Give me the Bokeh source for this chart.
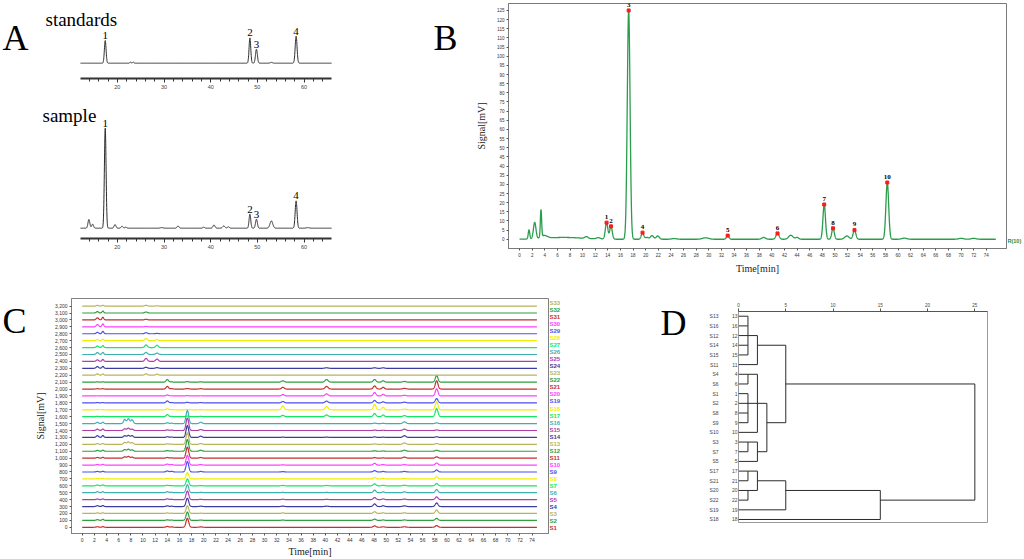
import numpy as np
from bokeh.plotting import figure
from bokeh.models import (Range1d, FixedTicker, Label, LabelSet, ColumnDataSource,
                          NumeralTickFormatter, LinearAxis)
from bokeh.layouts import row, column
from bokeh.embed import file_html
from bokeh.resources import INLINE
from bokeh.core.properties import value

SERIF = "Liberation Serif"
SANS = "Liberation Sans"

# ---------------- Panel A data (standards / sample) ----------------
A_STD_RT = [17.4, 22.8, 23.4, 48.4, 49.8, 53.0, 58.3]
A_STD_H = [22.7, 1.0, 1.0, 25.3, 14.0, 0.8, 27.0]
A_STD_W = [0.18, 0.15, 0.15, 0.18, 0.2, 0.25, 0.2]
A_SAMPLE_RT = [13.9, 14.7, 17.4, 19.5, 21.0, 21.8, 29.5, 33.0, 38.5, 40.7, 42.8, 43.8,
               48.4, 49.8, 53.0, 58.3, 60.8]
A_SAMPLE_H = [8.7, 4.0, 100.0, 3.6, 2.0, 1.0, 0.6, 2.2, 1.0, 3.2, 2.2, 1.4,
              14.0, 9.0, 7.3, 27.3, 0.6]
A_SAMPLE_W = [0.2, 0.2, 0.18, 0.2, 0.2, 0.2, 0.3, 0.2, 0.2, 0.22, 0.25, 0.2,
              0.18, 0.2, 0.3, 0.2, 0.3]
A_LABEL_RT = [17.4, 48.4, 49.8, 58.3]
A_LABELS = ["1", "2", "3", "4"]
A_X_TICKS = [20, 30, 40, 50, 60]
A_T_START, A_T_END = 12.1, 65.9

# ---------------- Panel B data (reference chromatogram R(10)) ----------------
B_RT = [1.5, 2.4, 3.4, 3.9, 7.0, 10.6, 12.5, 13.8, 14.5, 17.3, 19.5, 20.2, 21.0, 21.9,
        24.5, 29.5, 33.0, 38.7, 40.9, 43.0, 44.0, 48.3, 49.7, 51.9, 53.1, 58.3, 61.0,
        70.0, 72.0]
B_H = [4.9, 8.9, 14.8, 1.5, 1.0, 1.0, 0.7, 9.0, 7.0, 125.0, 3.6, 1.0, 2.0, 1.8,
       0.4, 0.8, 2.0, 1.0, 3.2, 2.2, 1.0, 19.0, 6.0, 1.8, 5.0, 31.0, 0.6,
       0.5, 0.5]
B_W = [0.12, 0.2, 0.1, 0.5, 3.0, 0.25, 0.3, 0.2, 0.2, 0.22, 0.2, 0.25, 0.25, 0.25,
       0.4, 0.5, 0.2, 0.3, 0.25, 0.35, 0.25, 0.2, 0.2, 0.35, 0.22, 0.22, 0.4,
       0.4, 0.4]
B_LABEL_RT = [13.8, 14.5, 17.3, 19.5, 33.0, 40.9, 48.3, 49.7, 53.1, 58.3]
B_LABELS = ["1", "2", "3", "4", "5", "6", "7", "8", "9", "10"]
B_X_TICKS = list(range(0, 75, 2))
B_Y_TICKS = list(range(0, 126, 5))
B_T_END = 75.5

# ---------------- Panel C data (33 samples, stacked by 100 mV) ----------------
C_SAMPLES = [f"S{i}" for i in range(1, 34)]
C_PEAK_RT = [2.5, 3.4, 7.0, 7.6, 8.2, 10.5, 12.3, 14.0, 14.7, 17.3, 19.5, 33.0, 40.2,
             48.1, 49.5, 53.0, 58.3]
C_PEAK_W = [0.2, 0.15, 0.2, 0.2, 0.2, 0.22, 0.22, 0.2, 0.2, 0.22, 0.22, 0.22, 0.25,
            0.22, 0.2, 0.25, 0.22]
C_HEIGHTS = [
    [8, 10, 0, 0, 0, 0, 0, 12, 6, 130, 6, 0, 0, 20, 8, 8, 25],
    [10, 15, 0, 0, 0, 0, 0, 8, 5, 120, 5, 5, 0, 18, 6, 6, 30],
    [8, 10, 0, 0, 0, 0, 0, 8, 4, 110, 4, 8, 0, 25, 10, 10, 50],
    [12, 15, 0, 0, 0, 0, 0, 10, 5, 120, 5, 6, 5, 38, 12, 10, 52],
    [8, 10, 0, 0, 0, 0, 0, 12, 5, 125, 5, 6, 5, 30, 10, 8, 40],
    [15, 15, 0, 0, 0, 0, 0, 15, 6, 115, 6, 5, 5, 38, 12, 12, 45],
    [12, 15, 0, 0, 0, 0, 0, 8, 4, 100, 4, 5, 5, 28, 8, 8, 33],
    [6, 8, 0, 0, 0, 0, 0, 6, 3, 90, 3, 4, 0, 20, 6, 6, 30],
    [8, 10, 0, 0, 0, 0, 0, 15, 10, 150, 8, 5, 0, 20, 8, 8, 30],
    [8, 10, 0, 0, 0, 0, 0, 15, 8, 140, 8, 4, 0, 25, 8, 6, 30],
    [10, 12, 20, 25, 15, 0, 0, 10, 5, 160, 10, 0, 0, 8, 4, 15, 20],
    [12, 15, 25, 30, 20, 0, 0, 10, 5, 170, 15, 0, 0, 6, 4, 15, 15],
    [10, 12, 30, 35, 25, 0, 0, 8, 4, 165, 12, 0, 0, 6, 4, 20, 12],
    [25, 28, 25, 30, 25, 0, 0, 10, 6, 170, 18, 5, 5, 8, 5, 25, 10],
    [20, 22, 25, 35, 20, 0, 0, 10, 6, 180, 15, 0, 0, 6, 4, 20, 8],
    [18, 20, 60, 70, 55, 0, 0, 12, 6, 190, 20, 0, 0, 6, 4, 25, 10],
    [5, 5, 0, 0, 0, 0, 0, 30, 5, 10, 5, 20, 25, 45, 25, 15, 118],
    [3, 3, 0, 0, 0, 0, 0, 15, 3, 5, 3, 55, 47, 80, 35, 10, 114],
    [5, 5, 0, 0, 0, 0, 0, 28, 5, 8, 5, 20, 25, 35, 15, 10, 62],
    [3, 3, 0, 0, 0, 0, 0, 15, 3, 5, 3, 20, 30, 50, 25, 10, 104],
    [5, 5, 0, 0, 0, 0, 0, 38, 5, 8, 5, 25, 38, 45, 25, 10, 120],
    [5, 5, 0, 0, 0, 0, 0, 38, 5, 8, 5, 20, 38, 38, 20, 10, 95],
    [20, 18, 0, 0, 0, 20, 15, 0, 0, 0, 0, 0, 0, 0, 0, 0, 0],
    [25, 28, 0, 0, 0, 15, 10, 0, 0, 0, 0, 0, 8, 8, 8, 0, 0],
    [22, 28, 0, 0, 0, 43, 33, 0, 0, 0, 0, 0, 0, 0, 0, 0, 0],
    [28, 30, 0, 0, 0, 30, 20, 0, 0, 0, 0, 0, 0, 0, 0, 0, 0],
    [22, 28, 0, 0, 0, 38, 33, 0, 0, 0, 0, 0, 0, 0, 0, 0, 0],
    [15, 20, 0, 0, 0, 30, 15, 0, 0, 0, 0, 0, 0, 0, 0, 0, 0],
    [20, 35, 0, 0, 0, 15, 5, 0, 0, 0, 0, 0, 0, 0, 0, 0, 0],
    [33, 43, 0, 0, 0, 5, 0, 0, 0, 0, 0, 0, 0, 0, 0, 0, 0],
    [30, 38, 0, 0, 0, 10, 0, 0, 0, 0, 0, 0, 0, 0, 0, 0, 0],
    [20, 28, 0, 0, 0, 15, 0, 0, 0, 0, 0, 0, 0, 0, 0, 0, 0],
    [10, 12, 0, 0, 0, 12, 5, 0, 0, 0, 0, 0, 0, 0, 0, 0, 0],
]
C_OFFSET_STEP = 100
C_COLOR_CYCLE = ["#c42e2e", "#2e9e3e", "#b8b45c", "#3c3ca0", "#b03ca8",
                 "#3fb0b0", "#12e862", "#f2ee00", "#4f4ff0", "#ff40ff"]
C_X_TICKS = list(range(0, 75, 2))
C_Y_TICKS = list(range(0, 3201, 100))
C_T_END = 74.8

# ---------------- Panel D data (dendrogram) ----------------
D_LEAVES = ["13", "16", "12", "14", "15", "11", "4", "6", "1", "2", "8", "9", "10",
            "3", "7", "5", "17", "21", "20", "22", "19", "18"]
D_MERGES = [
    (["13", "16", "12", "14", "15"], 1.0),
    (["m0", "11"], 2.0),
    (["4", "6"], 1.0),
    (["1", "2", "8", "9"], 1.0),
    (["m2", "m3", "10"], 2.0),
    (["3", "7"], 1.0),
    (["m5", "5"], 2.0),
    (["m4", "m6"], 3.0),
    (["m1", "m7"], 5.0),
    (["17", "21"], 1.0),
    (["20", "22"], 1.0),
    (["m9", "m10"], 2.0),
    (["m11", "19"], 5.0),
    (["m12", "18"], 15.0),
    (["m8", "m13"], 25.0),
]
D_X_TICKS = [0, 5, 10, 15, 20, 25]


def chrom(t, rts, hs, ws):
    y = np.zeros_like(t, dtype=float)
    for r, h, w in zip(rts, hs, ws):
        y += h * np.exp(-0.5 * ((t - r) / w) ** 2)
    return y


def clean(p):
    p.xgrid.visible = False
    p.ygrid.visible = False
    p.background_fill_color = "white"
    p.border_fill_color = "white"
    try:
        p.frame_align = False
    except Exception:
        pass


def blank(width, height, y_range=None, top=0, bottom=0):
    p = figure(width=width, height=height, x_range=Range1d(0, width),
               y_range=y_range if y_range is not None else Range1d(height, 0),
               x_axis_location=None, y_axis_location=None, toolbar_location=None,
               output_backend="svg", min_border_left=0, min_border_right=0,
               min_border_top=top, min_border_bottom=bottom)
    clean(p)
    p.outline_line_color = None
    return p


def letter(p, txt, x, y):
    p.add_layout(Label(x=x, y=y, x_units="canvas", y_units="canvas", text=txt,
                       text_font=SERIF, text_font_size="36px", text_color="black",
                       text_baseline="alphabetic", text_align="left"))


TOP_H = 276
BOT_H = 283

# ---------------- Panel A figures ----------------
A_W = 348
A_PX_PER_MIN = 4.667
A_FRAME_X0 = 80  # canvas px where the chromatogram starts


def panel_a(height, y0, y1, border_bottom, rts, hs, ws, title, tx, ty, add_letter):
    xr = Range1d(A_T_START - A_FRAME_X0 / A_PX_PER_MIN,
                 A_T_START + (A_W - A_FRAME_X0) / A_PX_PER_MIN)
    p = figure(width=A_W, height=height, x_range=xr, y_range=Range1d(y0, y1),
               y_axis_location=None, toolbar_location=None, output_backend="svg",
               min_border_left=0, min_border_right=0, min_border_top=0,
               min_border_bottom=border_bottom)
    clean(p)
    p.outline_line_color = None
    t = np.linspace(A_T_START, A_T_END, 2500)
    p.line(t, chrom(t, rts, hs, ws), line_color="#2a2a2a", line_width=1.0)
    ax = p.xaxis[0]
    ax.bounds = (A_T_START, A_T_END)
    ax.ticker = FixedTicker(ticks=A_X_TICKS, minor_ticks=list(range(14, 66, 2)))
    ax.axis_line_width = 2
    ax.axis_line_color = "#333333"
    ax.major_tick_out = 4
    ax.major_tick_in = 0
    ax.minor_tick_out = 3
    ax.minor_tick_in = 0
    ax.major_tick_line_color = "#333333"
    ax.minor_tick_line_color = "#333333"
    ax.major_label_text_font = SANS
    ax.major_label_text_font_size = "5.5px"
    ax.major_label_text_color = "#444444"
    ax.major_label_standoff = 2
    ly = chrom(np.array(A_LABEL_RT), rts, hs, ws) + 1.5
    src = ColumnDataSource(dict(x=A_LABEL_RT, y=ly, t=A_LABELS))
    p.add_layout(LabelSet(x="x", y="y", text="t", source=src, text_font=value(SERIF),
                          text_font_size=value("11px"), text_align=value("center"),
                          text_baseline=value("alphabetic"), text_color=value("black")))
    p.add_layout(Label(x=tx, y=ty, x_units="canvas", y_units="canvas", text=title,
                       text_font=SERIF, text_font_size="19px", text_color="black",
                       text_baseline="alphabetic"))
    if add_letter:
        letter(p, "A", 2, 37)
    return p


pa1 = panel_a(98, -15.3, 62.7, 20, A_STD_RT, A_STD_H, A_STD_W, "standards", 45, 19, True)
pa2 = panel_a(TOP_H - 98, -10.3, 129.7, 38, A_SAMPLE_RT, A_SAMPLE_H, A_SAMPLE_W,
              "sample", 42, 17, False)

# ---------------- Panel B ----------------
pb_letter = blank(122, TOP_H)
letter(pb_letter, "B", 85, 37)

b_yr = Range1d(-5.04, 128.8)
pb = figure(width=537, height=TOP_H, x_range=Range1d(-1.75, 77.2), y_range=b_yr,
            toolbar_location=None, output_backend="svg",
            min_border_left=38, min_border_right=1, min_border_top=3, min_border_bottom=26)
clean(pb)
pb.outline_line_color = "#7a7a7a"
tb = np.linspace(0, B_T_END, 5000)
pb.line(tb, chrom(tb, B_RT, B_H, B_W), line_color="#2a9d4c", line_width=1.3)
bly = chrom(np.array(B_LABEL_RT), B_RT, B_H, B_W)
pb.scatter(B_LABEL_RT, bly, marker="square", size=3.0, color="#ff1a1a")
srcb = ColumnDataSource(dict(x=B_LABEL_RT, y=bly + 2.0, t=B_LABELS))
pb.add_layout(LabelSet(x="x", y="y", text="t", source=srcb, text_font=value(SERIF),
                       text_font_size=value("7px"), text_font_style=value("bold"),
                       text_align=value("center"), text_baseline=value("alphabetic"),
                       text_color=value("black")))
pb.xaxis.ticker = FixedTicker(ticks=B_X_TICKS)
pb.yaxis.ticker = FixedTicker(ticks=B_Y_TICKS)
for ax in (pb.xaxis[0], pb.yaxis[0]):
    ax.axis_line_color = "#7a7a7a"
    ax.major_tick_line_color = "#555555"
    ax.minor_tick_line_color = None
    ax.minor_tick_out = 0
    ax.minor_tick_in = 0
    ax.major_tick_out = 2
    ax.major_tick_in = 0
    ax.major_label_text_font = SANS
    ax.major_label_text_font_size = "4.5px"
    ax.major_label_text_color = "#333333"
    ax.major_label_standoff = 2
    ax.axis_label_text_font = SERIF
    ax.axis_label_text_font_size = "10px"
    ax.axis_label_text_font_style = "normal"
    ax.axis_label_text_color = "#222222"
pb.xaxis.axis_label = "Time[min]"
pb.yaxis.axis_label = "Signal[mV]"
pb.xaxis.axis_label_standoff = 3
pb.yaxis.axis_label_standoff = 7

pb_r = blank(17, TOP_H, y_range=b_yr, top=3, bottom=26)
pb_r.text(x=[0], y=[0.3], text=["R(10)"], x_offset=0, text_font=value(SANS),
          text_font_size=value("5.5px"), text_font_style=value("bold"),
          text_color=value("#1d8a3c"), text_baseline=value("middle"),
          text_align=value("left"))

# ---------------- Panel C ----------------
pc_letter = blank(28, BOT_H)
letter(pc_letter, "C", 2, 44)

c_yr = Range1d(-90, 3310)
pc = figure(width=521, height=BOT_H, x_range=Range1d(-1.76, 76.7), y_range=c_yr,
            toolbar_location=None, output_backend="svg",
            min_border_left=43, min_border_right=1, min_border_top=22, min_border_bottom=22)
clean(pc)
pc.outline_line_color = "#808080"
tc = np.linspace(0, C_T_END, 3000)
xs, ys, cols = [], [], []
for i, hrow in enumerate(C_HEIGHTS):
    xs.append(tc)
    ys.append(chrom(tc, C_PEAK_RT, hrow, C_PEAK_W) + i * C_OFFSET_STEP)
    cols.append(C_COLOR_CYCLE[i % len(C_COLOR_CYCLE)])
pc.multi_line(xs=xs, ys=ys, line_color=cols, line_width=1.2)
pc.xaxis.ticker = FixedTicker(ticks=C_X_TICKS)
pc.yaxis.ticker = FixedTicker(ticks=C_Y_TICKS)
pc.yaxis.formatter = NumeralTickFormatter(format="0,0")
for ax in (pc.xaxis[0], pc.yaxis[0]):
    ax.axis_line_color = "#808080"
    ax.major_tick_line_color = "#555555"
    ax.minor_tick_line_color = None
    ax.minor_tick_out = 0
    ax.minor_tick_in = 0
    ax.major_tick_out = 2
    ax.major_tick_in = 0
    ax.major_label_text_font = SANS
    ax.major_label_text_font_size = "5px"
    ax.major_label_text_color = "#333333"
    ax.major_label_standoff = 2
    ax.axis_label_text_font = SERIF
    ax.axis_label_text_font_size = "10px"
    ax.axis_label_text_font_style = "normal"
    ax.axis_label_text_color = "#222222"
pc.yaxis.axis_label = "Signal[mV]"
pc.yaxis.axis_label_standoff = 6
pc.xaxis.axis_label = "Time[min]"
pc.xaxis.axis_label_standoff = 1

pc_s = blank(111, BOT_H, y_range=c_yr, top=22, bottom=22)
srcc = ColumnDataSource(dict(x=[0] * len(C_SAMPLES),
                             y=[i * C_OFFSET_STEP + 45 for i in range(len(C_SAMPLES))],
                             t=C_SAMPLES, c=cols))
pc_s.text(x="x", y="y", text="t", text_color="c", source=srcc, x_offset=0,
          text_font=value(SANS), text_font_size=value("6px"),
          text_font_style=value("bold"), text_align=value("left"),
          text_baseline=value("middle"))

# ---------------- Panel D ----------------
pd_letter = blank(30, BOT_H)
letter(pd_letter, "D", 0, 46)

pd_ = figure(width=334, height=BOT_H, x_range=Range1d(0, 26.34), y_range=Range1d(21.31, -0.486),
             x_axis_location="above", y_axis_location=None, toolbar_location=None,
             output_backend="svg", min_border_left=48, min_border_right=37,
             min_border_top=35, min_border_bottom=37)
clean(pd_)
pd_.outline_line_color = "#9a9a9a"
pos = {leaf: (0.0, float(i)) for i, leaf in enumerate(D_LEAVES)}
dx, dy = [], []
for k, (children, h) in enumerate(D_MERGES):
    cy = [pos[c][1] for c in children]
    for c in children:
        cx, yy = pos[c]
        dx.append([cx, h])
        dy.append([yy, yy])
    dx.append([h, h])
    dy.append([min(cy), max(cy)])
    pos[f"m{k}"] = (h, float(np.floor((min(cy) + max(cy)) / 2)))
pd_.multi_line(xs=dx, ys=dy, line_color="#2b2b2b", line_width=1.0)
ax = pd_.xaxis[0]
ax.ticker = FixedTicker(ticks=D_X_TICKS)
ax.axis_line_color = "#555555"
ax.major_tick_line_color = "#555555"
ax.minor_tick_line_color = None
ax.minor_tick_out = 0
ax.minor_tick_in = 0
ax.major_tick_out = 3
ax.major_tick_in = 0
ax.major_label_text_font = SANS
ax.major_label_text_font_size = "4.5px"
ax.major_label_text_color = "#444444"
ax.major_label_standoff = 2

rows = list(range(len(D_LEAVES)))
num_axis = LinearAxis(ticker=FixedTicker(ticks=rows),
                      major_label_overrides={i: D_LEAVES[i] for i in rows})
lab_axis = LinearAxis(ticker=FixedTicker(ticks=rows),
                      major_label_overrides={i: "S" + D_LEAVES[i] for i in rows})
for a, so in ((num_axis, 1), (lab_axis, 10)):
    a.axis_line_color = None
    a.major_tick_line_color = None
    a.minor_tick_line_color = None
    a.major_tick_out = 0
    a.major_tick_in = 0
    a.minor_tick_out = 0
    a.minor_tick_in = 0
    a.major_label_text_font = SANS
    a.major_label_text_font_size = "5px"
    a.major_label_text_color = "#444444"
    a.major_label_standoff = so
pd_.add_layout(num_axis, "left")
pd_.add_layout(lab_axis, "left")

layout = column(row(column(pa1, pa2), pb_letter, pb, pb_r),
                row(pc_letter, pc, pc_s, pd_letter, pd_))
open("out.html", "w").write(file_html(layout, INLINE))
